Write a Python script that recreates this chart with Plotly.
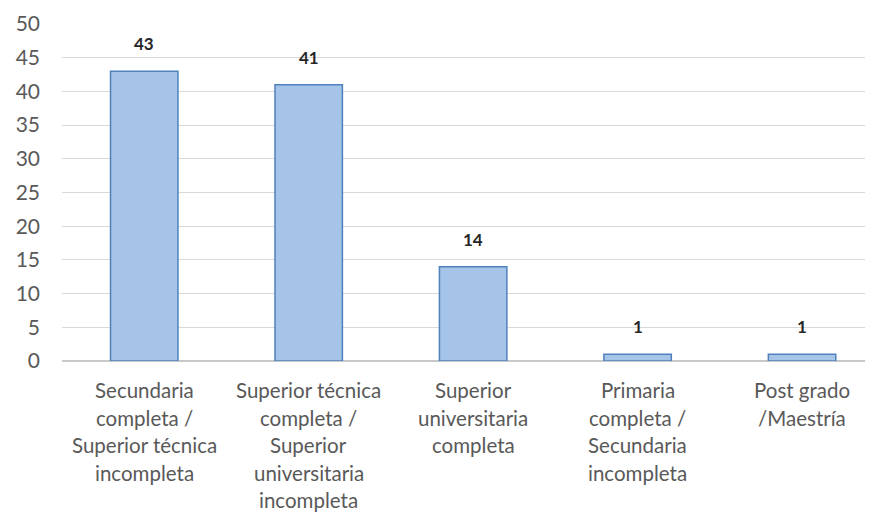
import plotly.graph_objects as go

categorias = [
    "Secundaria<br>completa /<br>Superior técnica<br>incompleta",
    "Superior técnica<br>completa /<br>Superior<br>universitaria<br>incompleta",
    "Superior<br>universitaria<br>completa",
    "Primaria<br>completa /<br>Secundaria<br>incompleta",
    "Post grado<br>/Maestría",
]
valores = [43, 41, 14, 1, 1]
y_ticks = [0, 5, 10, 15, 20, 25, 30, 35, 40, 45, 50]

x_idx = list(range(len(categorias)))

fig = go.Figure()
fig.add_trace(go.Bar(
    x=x_idx, y=valores,
    marker=dict(color="#a6c3e8", line=dict(color="#4f81bd", width=1.5)),
    hoverinfo="skip",
))

# etiquetas de datos encima de cada barra
for i, v in zip(x_idx, valores):
    fig.add_annotation(x=i, y=v, text="<b>%d</b>" % v, showarrow=False,
                       yanchor="bottom", yshift=15,
                       font=dict(family="Lato", size=17, color="#262626"))

# etiquetas del eje x, línea por línea (interlineado como en Excel)
for i, lab in zip(x_idx, categorias):
    for k, linea in enumerate(lab.split("<br>")):
        fig.add_annotation(x=i, y=0, text=linea, showarrow=False,
                           yanchor="middle", yshift=-29 - 27.5 * k,
                           font=dict(family="Lato", size=20.5, color="#595959"))

# la página tiene 8 px de margen en el body: se compensa en los márgenes
fig.update_layout(
    width=873, height=513,
    margin=dict(l=54, r=0, t=16, b=160),
    paper_bgcolor="white", plot_bgcolor="white",
    bargap=0.59, showlegend=False,
    font=dict(family="Lato", color="#595959"),
)
fig.update_xaxes(range=[-0.5, 4.48], showticklabels=False, showgrid=False,
                 zeroline=False, showline=False, ticks="")
fig.update_yaxes(range=[0, 50], tickvals=y_ticks, showgrid=True,
                 gridcolor="#d9d9d9", gridwidth=1, zeroline=True,
                 zerolinecolor="#c8c8c8", zerolinewidth=1.5, ticks="",
                 ticklabelstandoff=21,
                 tickfont=dict(family="Lato", size=21, color="#595959"))

fig.write_html("out.html")
